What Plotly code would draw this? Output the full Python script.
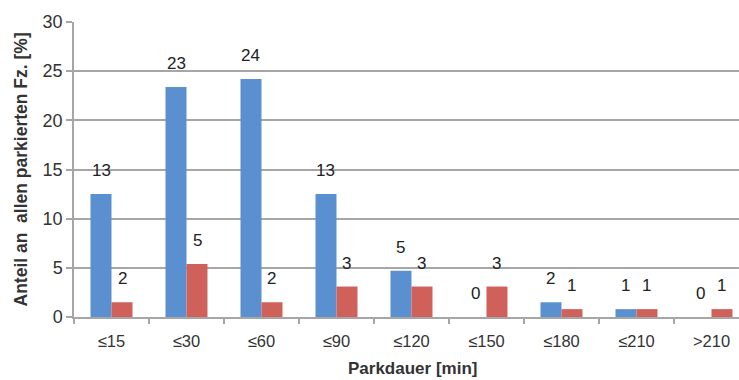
import plotly.graph_objects as go

categories = ["≤15", "≤30", "≤60", "≤90", "≤120", "≤150", "≤180", "≤210", ">210"]
series_blue = [12.5, 23.4, 24.2, 12.5, 4.7, 0.0, 1.5, 0.8, 0.0]
series_red = [1.5, 5.4, 1.5, 3.1, 3.1, 3.1, 0.8, 0.8, 0.8]
y_ticks = [0, 5, 10, 15, 20, 25, 30]

BLUE = "#5b90d0"
RED = "#cf605a"
FONT = "Liberation Sans, Arial, sans-serif"
GRID = "#a6a6a6"
TEXT = "#333333"


def fmt(v):
    # round half up, like the spreadsheet data labels
    return str(int(v + 0.5))


fig = go.Figure()
fig.add_trace(go.Bar(x=categories, y=series_blue, marker=dict(color=BLUE, line=dict(width=0)),
                     name="A", showlegend=False))
fig.add_trace(go.Bar(x=categories, y=series_red, marker=dict(color=RED, line=dict(width=0)),
                     name="B", showlegend=False))

bar_px = 21
for vals, shift in ((series_blue, -bar_px / 2), (series_red, bar_px / 2)):
    for c, v in zip(categories, vals):
        fig.add_annotation(x=c, y=v, text=fmt(v), showarrow=False, xshift=shift,
                           yanchor="bottom", yshift=12,
                           font=dict(family=FONT, size=17, color="#222222"))

# axis titles
fig.add_annotation(xref="paper", yref="paper", x=0, y=0.5, xanchor="center", yanchor="middle",
                   xshift=-54, textangle=-90, showarrow=False,
                   text="<b>Anteil an&nbsp; allen parkierten Fz. [%]</b>",
                   font=dict(family=FONT, size=17.5, color=TEXT))
fig.add_annotation(xref="paper", yref="paper", x=0.5, y=0, xanchor="center", yanchor="bottom",
                   xshift=5.5, yshift=-63, showarrow=False,
                   text="<b>Parkdauer [min]</b>",
                   font=dict(family=FONT, size=17, color=TEXT))

fig.update_layout(
    width=739, height=380,
    margin=dict(l=74, r=0, t=22, b=63),
    paper_bgcolor="white", plot_bgcolor="white",
    barmode="group", bargap=0.44, bargroupgap=0,
    font=dict(family=FONT, color=TEXT),
)
fig.update_xaxes(
    range=[-0.5, 8.367], showline=True, linecolor=GRID, linewidth=1.5,
    ticks="outside", tickson="boundaries", ticklen=5, tickcolor=GRID, tickwidth=1.5,
    ticklabelstandoff=8,
    tickfont=dict(size=16.5, color=TEXT),
)
fig.update_yaxes(
    range=[0, 30], tickvals=y_ticks, showgrid=True, gridcolor=GRID, gridwidth=1.5,
    showline=True, linecolor=GRID, linewidth=1.5, zeroline=False,
    ticks="outside", ticklen=6, tickcolor=GRID, tickwidth=1.5,
    tickfont=dict(size=18, color=TEXT),
)

fig.write_html("out.html")
